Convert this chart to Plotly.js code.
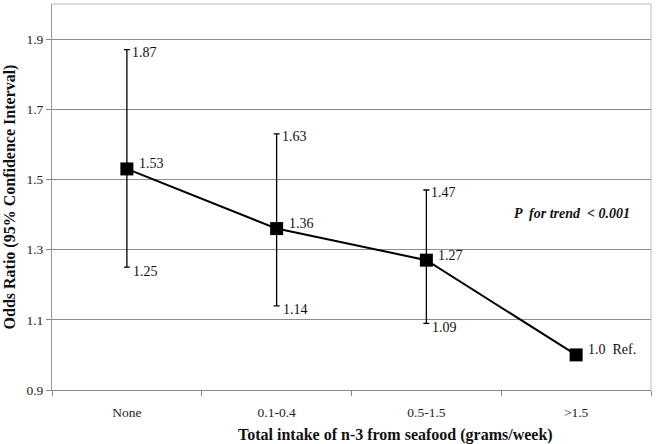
<!DOCTYPE html>
<html>
<head>
<meta charset="utf-8">
<script src="https://cdn.plot.ly/plotly-3.0.1.min.js"></script>
<style>html,body{margin:0;padding:0;background:#fff;}#chart{width:657px;height:444px;}</style>
</head>
<body>
<div id="chart"></div>
<script>
const categories = ['None', '0.1-0.4', '0.5-1.5', '>1.5'];
const oddsRatio = [1.53, 1.36, 1.27, 1.0];
const lowerCI = [1.25, 1.14, 1.09, 1.0];
const upperCI = [1.87, 1.63, 1.47, 1.0];
const pointLabels = ['1.53', '1.36', '1.27', '1.0  Ref.'];
const upperLabels = ['1.87', '1.63', '1.47', ''];
const lowerLabels = ['1.25', '1.14', '1.09', ''];
const yTicks = [0.9, 1.1, 1.3, 1.5, 1.7, 1.9];

const serif = '"Liberation Serif", "Times New Roman", serif';

const trace = {
  x: categories,
  y: oddsRatio,
  type: 'scatter',
  mode: 'lines+markers',
  line: {color: '#000', width: 2},
  marker: {symbol: 'square', size: 13, color: '#000'},
  error_y: {
    type: 'data',
    symmetric: false,
    array: upperCI.map((u, i) => u - oddsRatio[i]),
    arrayminus: oddsRatio.map((v, i) => v - lowerCI[i]),
    color: '#000',
    thickness: 1.3,
    width: 3
  },
  hoverinfo: 'skip'
};

const lblFont = {family: serif, size: 14, color: '#111'};
const annotations = [];
categories.forEach((c, i) => {
  annotations.push({x: c, y: oddsRatio[i], xref: 'x', yref: 'y', text: pointLabels[i], showarrow: false,
    xanchor: 'left', yanchor: 'middle', xshift: 10, yshift: 5, font: lblFont});
  if (upperLabels[i]) annotations.push({x: c, y: upperCI[i], xref: 'x', yref: 'y', text: upperLabels[i], showarrow: false,
    xanchor: 'left', yanchor: 'middle', xshift: 3, yshift: -3, font: lblFont});
  if (lowerLabels[i]) annotations.push({x: c, y: lowerCI[i], xref: 'x', yref: 'y', text: lowerLabels[i], showarrow: false,
    xanchor: 'left', yanchor: 'middle', xshift: 4, yshift: -4, font: lblFont});
});
annotations.push({x: 0.868, y: 1.404, xref: 'paper', yref: 'y', text: '<b><i>P  for trend  &lt; 0.001</i></b>', showarrow: false,
  xanchor: 'center', yanchor: 'middle', font: {family: serif, size: 14, color: '#111'}});
annotations.push({x: 0.574, y: 0, xref: 'paper', yref: 'paper', yshift: -45, text: '<b>Total intake of n-3 from seafood (grams/week)</b>', showarrow: false,
  xanchor: 'center', yanchor: 'middle', font: {family: serif, size: 16, color: '#111'}});

const layout = {
  width: 657, height: 444,
  margin: {l: 52, r: 6, t: 4, b: 54},
  paper_bgcolor: '#fff', plot_bgcolor: '#fff',
  showlegend: false,
  font: {family: serif, color: '#222'},
  xaxis: {
    type: 'category',
    range: [-0.5, 3.5],
    tickson: 'boundaries',
    ticks: 'outside', ticklen: 5, tickcolor: '#888', tickwidth: 1,
    showgrid: false,
    showline: true, linecolor: '#888', linewidth: 1.3, mirror: false,
    tickfont: {family: serif, size: 13.5, color: '#222'},
    ticklabelstandoff: 9
  },
  yaxis: {
    range: [0.9, 2.0],
    tickvals: yTicks,
    ticktext: yTicks.map(v => v.toFixed(1)),
    ticks: 'outside', ticklen: 5, tickcolor: '#888',
    showgrid: true, gridcolor: '#8c8c8c', gridwidth: 1,
    zeroline: false,
    showline: true, linecolor: '#999', linewidth: 1,
    tickfont: {family: serif, size: 13.5, color: '#222'},
    title: {text: '<b>Odds Ratio (95% Confidence Interval)</b>', font: {family: serif, size: 16, color: '#111'}, standoff: 6}
  },
  shapes: [
    {type: 'line', xref: 'paper', yref: 'paper', x0: 0, x1: 1, y0: 1, y1: 1, line: {color: '#bbb', width: 1}},
    {type: 'line', xref: 'paper', yref: 'paper', x0: 1, x1: 1, y0: 0, y1: 1, line: {color: '#bbb', width: 1}}
  ],
  annotations: annotations
};

Plotly.newPlot('chart', [trace], layout, {displayModeBar: false, staticPlot: true});
</script>
</body>
</html>
